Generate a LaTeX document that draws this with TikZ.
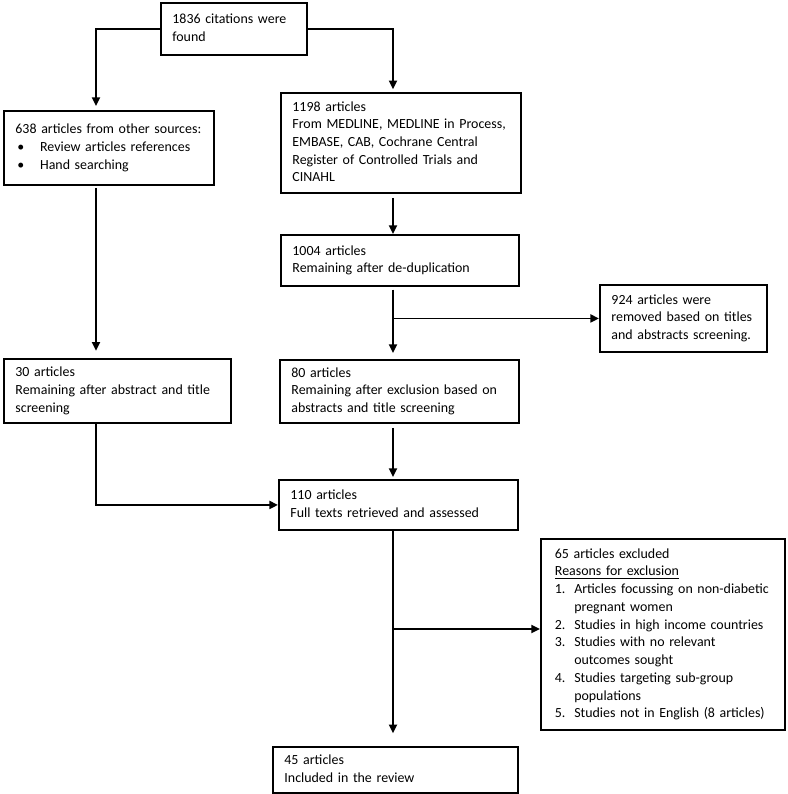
\documentclass[tikz,border=0pt]{standalone}
\usepackage{fontspec}
\setmainfont{Carlito}
\usetikzlibrary{arrows.meta}
\newcommand\boxlines[1]{\begin{tabular}{@{}l@{}}#1\end{tabular}}
\begin{document}
\begin{tikzpicture}[x=0.75pt,y=-0.75pt,
  box/.style={draw, line width=1.4pt, anchor=north west, inner xsep=8.625pt,
    inner ysep=0pt, align=left, font=\fontsize{10.45}{13.3}\selectfont},
  arr/.style={line width=1.4pt, -{Triangle[width=6pt,length=6.5pt]}}]
\useasboundingbox (0,0) rectangle (788,794);

\node[box, text width=92.25pt, minimum height=39pt] (top) at (160,2)
  {\boxlines{1836 citations were\\found}};
\node[box, text width=140.25pt, minimum height=55.5pt] (b638) at (3,110)
  {\boxlines{638 articles from other sources:\\
   \hspace*{1.5pt}\makebox[17pt][l]{\textbullet}Review articles references\\
   \hspace*{1.5pt}\makebox[17pt][l]{\textbullet}Hand searching}};
\node[box, text width=162.75pt, minimum height=75pt] (b1198) at (280,92)
  {\boxlines{1198 articles\\From MEDLINE, MEDLINE in Process,\\EMBASE, CAB, Cochrane Central\\Register of Controlled Trials and\\CINAHL}};
\node[box, text width=161.25pt, minimum height=38.25pt] (b1004) at (280,234)
  {\boxlines{1004 articles\\Remaining after de-duplication}};
\node[box, text width=108pt, minimum height=50.25pt] (b924) at (599,284)
  {\boxlines{924 articles were\\removed based on titles\\and abstracts screening.}};
\node[box, text width=153pt, minimum height=48pt] (b30) at (3,358)
  {\boxlines{30 articles\\Remaining after abstract and title\\screening}};
\node[box, text width=162pt, minimum height=47.25pt] (b80) at (279,359)
  {\boxlines{80 articles\\Remaining after exclusion based on\\abstracts and title screening}};
\node[box, text width=162pt, minimum height=37.5pt] (b110) at (278,479)
  {\boxlines{110 articles\\Full texts retrieved and assessed}};
\node[box, inner xsep=10.5pt, text width=162pt, minimum height=143.25pt] (b65) at (540,538)
  {\boxlines{65 articles excluded\\
   \underline{Reasons for exclusion}\\
   \makebox[14.5pt][l]{1.}Articles focussing on non-diabetic\\
   \hspace*{14.5pt}pregnant women\\
   \makebox[14.5pt][l]{2.}Studies in high income countries\\
   \makebox[14.5pt][l]{3.}Studies with no relevant\\
   \hspace*{14.5pt}outcomes sought\\
   \makebox[14.5pt][l]{4.}Studies targeting sub-group\\
   \hspace*{14.5pt}populations\\
   \makebox[14.5pt][l]{5.}Studies not in English (8 articles)}};
\node[box, text width=166.5pt, minimum height=34.5pt] (b45) at (272,746)
  {\boxlines{45 articles\\Included in the review}};

\coordinate (lx) at (96,0);
\coordinate (mx) at (393,0);
\coordinate (br2) at (393,629);

\draw[arr, shorten >=3pt] (top.west) -| (b638.north -| lx);
\draw[arr, shorten >=2pt] (top.east) -| (b1198.north -| mx);
\draw[arr, shorten <=3pt] (b1198.south -| mx) -- (b1004.north -| mx);
\draw[arr, shorten <=2pt, shorten >=4.5pt] (b1004.south -| mx) -- (b80.north -| mx);
\draw[arr] (b924.west -| mx) -- (b924.west);
\draw[arr, shorten <=1.5pt, shorten >=5.5pt] (b638.south -| lx) -- (b30.north -| lx);
\draw[arr, shorten <=3pt, shorten >=1.5pt] (b80.south -| mx) -- (b110.north -| mx);
\draw[arr] (b30.south -| lx) |- (b110.west);
\draw[arr, shorten >=9.5pt] (b110.south -| mx) -- (b45.north -| mx);
\draw[arr] (br2) -- (br2 -| b65.west);
\end{tikzpicture}
\end{document}
